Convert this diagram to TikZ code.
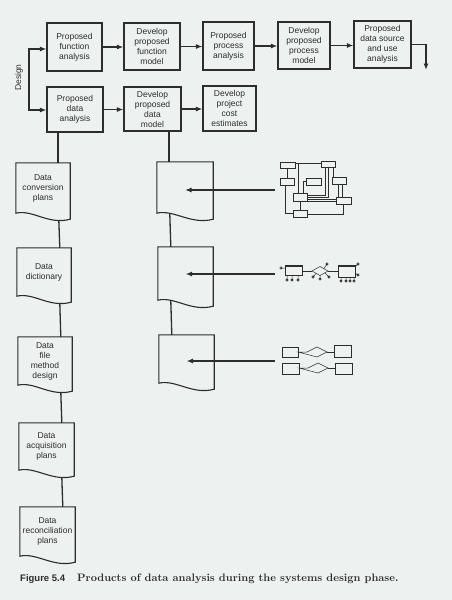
\documentclass[tikz,border=0pt]{standalone}
\usepackage{fontspec}
\setsansfont{Liberation Sans}
\usetikzlibrary{arrows.meta,calc,positioning}
\definecolor{paper}{RGB}{237,241,240}
\definecolor{ink}{RGB}{45,45,45}

\begin{document}
\begin{tikzpicture}[x=1pt,y=-1pt,
  every node/.style={font=\sffamily\fontsize{8.5}{10}\selectfont,text=ink,align=center},
  stepbox/.style={draw=ink,line width=1.1pt,inner sep=0pt},
  docbox/.style={inner sep=0pt},
  link/.style={draw=ink,line width=1.3pt},
  arr/.style={link,-{Latex[length=6.5pt,width=5pt]}},
  icon/.style={draw=ink,line width=0.5pt}]
  \fill[paper] (0,0) rectangle (452,600);
  \useasboundingbox (0,0) rectangle (452,600);

  % design steps
  \node[stepbox,minimum width=55pt,minimum height=48pt] (fa) at (74.5,47) {Proposed\\function\\analysis};
  \node[stepbox,minimum width=56pt,minimum height=47pt] (fm) at (152,46.5) {Develop\\proposed\\function\\model};
  \node[stepbox,minimum width=51pt,minimum height=48pt] (pa) at (228.5,46) {Proposed\\process\\analysis};
  \node[stepbox,minimum width=52pt,minimum height=47pt] (pm) at (304,45.5) {Develop\\proposed\\process\\model};
  \node[stepbox,minimum width=57pt,minimum height=47pt] (ds) at (382.5,44.5) {Proposed\\data source\\and use\\analysis};
  \node[stepbox,minimum width=56pt,minimum height=45pt] (da) at (75,109.5) {Proposed\\data\\analysis};
  \node[stepbox,minimum width=57pt,minimum height=44pt] (dm) at (152.5,109) {Develop\\proposed\\data\\model};
  \node[stepbox,minimum width=53pt,minimum height=45pt] (ce) at (229.5,108.5) {Develop\\project\\cost\\estimates};
  \node[rotate=90] (dlab) at (19,77.5) {Design};

  \coordinate (dt) at (29,49);
  \coordinate (db) at (29,110);
  \coordinate (out) at (426,70);
  \draw[link,{Latex[length=6.5pt,width=5pt]}-{Latex[length=6.5pt,width=5pt]}]
    (dt -| fa.west) -- (dt) -- (db) -- (db -| da.west);
  \foreach \a/\b in {fa/fm,fm/pa,pa/pm,pm/ds,da/dm,dm/ce}
    \draw[arr] (\a.east) -- (\a.east -| \b.west);
  \draw[arr] (ds.east) -- (ds.east -| out) -- (out);

  % products
  \node[docbox,minimum width=54pt,minimum height=50pt] (d1) at (43,188) {Data\\conversion\\plans};
  \node[docbox,minimum width=54pt,minimum height=48pt] (d2) at (44,272) {Data\\dictionary};
  \node[docbox,minimum width=54pt,minimum height=48pt] (d3) at (45,361) {Data\\file\\method\\design};
  \node[docbox,minimum width=55pt,minimum height=47pt] (d4) at (46.5,446.5) {Data\\acquisition\\plans};
  \node[docbox,minimum width=55pt,minimum height=49pt] (d5) at (47.5,531.5) {Data\\reconciliation\\plans};
  \node[docbox,minimum width=56pt,minimum height=51pt] (ma) at (185,187.5) {};
  \node[docbox,minimum width=55pt,minimum height=53pt] (mb) at (185.5,273.5) {};
  \node[docbox,minimum width=55pt,minimum height=48pt] (mc) at (186.5,359) {};
  \foreach \d in {d1,d2,d3,d4,d5,ma,mb,mc}
    \draw[draw=ink,line width=1.1pt] (\d.south west) -- (\d.north west) -- (\d.north east)
      -- ($(\d.south east)+(0,6)$) .. controls +(-22,6) and +(17,-4) .. (\d.south west) -- cycle;

  \draw[link] (da.south -| 58,0) -- (d1.north -| 58,0);
  \foreach \a/\b in {d1/d2,d2/d3,d3/d4,d4/d5}
    \draw[link] ($(\a.south west)+(43,7)$) -- ($(\b.north west)+(43,0)$);
  \draw[link] (dm.south -| 169,0) -- (ma.north -| 169,0);
  \foreach \a/\b in {ma/mb,mb/mc}
    \draw[link] ($(\a.south west)+(13,1)$) -- ($(\b.north west)+(13,0)$);

  \coordinate (i1) at (275,190);
  \coordinate (i2) at (275,274);
  \coordinate (i3) at (275,361);
  \draw[arr] (i1) -- (i1 -| ma);
  \draw[arr] (i2) -- (i2 -| mb);
  \draw[arr] (i3) -- (i3 -| mc);

  % structure chart
  \foreach \l/\t/\r/\b in {280/162/295/168,321/161/335/167,280/178/294/185,306/178/321/185,
      332/177/346/184,293/193/307/201,336/197/351/204,293/210/307/217}
    \draw[icon] (\l,\t) rectangle (\r,\b);
  \draw[icon] (295,163.5) -- (321,163.5);
  \draw[icon] (287,168) -- (287,178);
  \draw[icon] (298,163.5) -- (298,193);
  \draw[icon] (285,185) -- (285,213.5) -- (293,213.5);
  \draw[icon] (306,181.5) -- (303,181.5) -- (303,193);
  \draw[icon] (325,167) -- (325,195) -- (307,195);
  \draw[icon] (328,167) -- (328,197) -- (307,197);
  \draw[icon] (333,167) -- (333,177);
  \draw[icon] (338,184) -- (338,197);
  \draw[icon] (342,184) -- (342,197);
  \draw[icon] (307,199) -- (336,199);
  \draw[icon] (307,201) -- (336,201);
  \draw[icon] (300,201) -- (300,210);
  \draw[icon] (307,214) -- (343,214) -- (343,204);

  % entity diagram with attributes
  \draw[icon] (285,265) rectangle (302,275);
  \draw[icon] (285,266) -- (302,266);
  \draw[icon] (338,265) rectangle (355,277);
  \draw[icon] (338,266) -- (355,266);
  \draw[icon] (312,271) -- (320,266.5) -- (328,271) -- (320,275.5) -- cycle;
  \draw[icon] (302,271) -- (312,271);
  \draw[icon] (328,271) -- (338,271);
  \draw[icon] (285,268) -- (281,268) circle (1.2);
  \foreach \x in {287,292,298}
    \draw[icon] (\x,275) -- (\x,280) circle (1.2);
  \foreach \x in {341,346,350,354}
    \draw[icon] (\x,277) -- (\x,281) circle (1.2);
  \draw[icon] (355,267) -- (358,264) circle (1.2);
  \draw[icon] (355,273) -- (358,275) circle (1.2);
  \draw[icon] (324,268.5) -- (327,264) circle (1.2);
  \draw[icon] (316,273.5) -- (313,277) circle (1.2);
  \draw[icon] (320,275.5) -- (320,279) circle (1.2);
  \draw[icon] (325,273) -- (329,277) circle (1.2);

  % entity pairs
  \draw[icon] (282,347) rectangle (298,357);
  \draw[icon] (298,352) -- (307,352) -- (317,347) -- (327,352) -- (317,357) -- cycle;
  \draw[icon] (327,352) -- (334,352);
  \draw[icon] (334,345) rectangle (351,357);
  \draw[icon] (282,363) rectangle (299,374);
  \draw[icon] (299,368) -- (308,368) -- (318,363) -- (328,368) -- (318,373) -- cycle;
  \draw[icon] (328,368) -- (335,368);
  \draw[icon] (335,363) rectangle (352,374);

  % caption
  \node[anchor=base west,inner sep=0pt,font=\sffamily\bfseries\fontsize{9.5}{11}\selectfont] (fignum) at (20,581) {Figure 5.4};
  \node[anchor=base west,inner sep=0pt,font=\rmfamily\bfseries\fontsize{10.8}{13}\selectfont] (cap) at (77,581)
    {Products of data analysis during the systems design phase.};
\end{tikzpicture}
\end{document}
